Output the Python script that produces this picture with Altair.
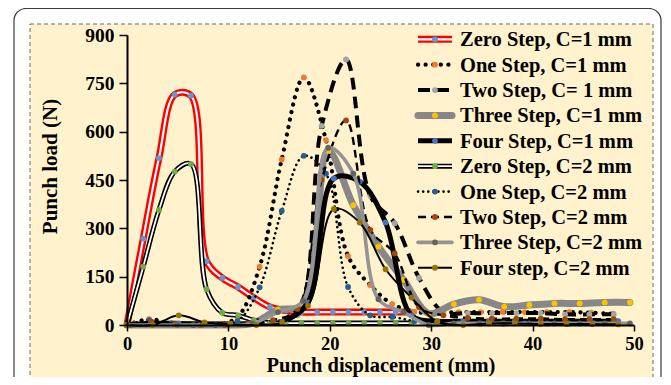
import altair as alt
import pandas as pd

# ---------------- data ----------------
x_zero = [0, 1.6, 3.15, 4.7, 6.3, 7.85, 9.4, 10.95, 12.5, 14.1, 15.65, 17.2, 18.75, 20.3, 21.85, 23.4, 24.95, 26.5, 28.05]
zero_c1 = [0, 268, 518, 715, 712, 198, 146, 118, 85, 56, 45, 40, 40, 40, 40, 40, 40, 40, 40]
zero_c2 = [0, 181, 357, 476, 500, 111, 38, 30, 15, 6, 6, 6, 6, 6, 6, 6, 6, 6, 6]

x_one = [0, 2.18, 4.36, 6.54, 8.72, 10.9, 13.08, 15.26, 17.44, 19.62, 21.8, 23.98, 26.16, 28.34, 30.52, 32.7, 34.88, 37.06, 39.24, 41.42, 43.6, 45.78, 47.96]
one_c1 = [0, 18, 5, 2, 0, 25, 181, 514, 768, 574, 214, 124, 65, 41, 38, 40, 40, 40, 40, 40, 40, 38, 35]
one_c2 = [0, 15, 5, 0, 0, 12, 117, 354, 525, 470, 118, 30, 25, 12, 5, 5, 5, 5, 5, 5, 5, 5, 5]

x_two = [0, 2.4, 4.8, 7.2, 9.6, 12.0, 14.4, 16.8, 19.2, 21.6, 24.0, 26.4, 28.8, 31.2, 33.6, 36.0, 38.4, 40.8, 43.2, 45.6, 48.0]
two_c1 = [0, 5, 3, 0, 0, 3, 10, 30, 618, 824, 400, 316, 146, 40, 37, 37, 37, 37, 33, 33, 33]
two_c2 = [0, 10, 3, 0, 0, 5, 15, 50, 450, 635, 295, 222, 55, 30, 22, 20, 20, 20, 18, 18, 18]

x_three = [0, 2.48, 4.96, 7.44, 9.92, 12.4, 14.88, 17.36, 19.84, 22.32, 24.8, 27.28, 29.76, 32.24, 34.72, 37.2, 39.68, 42.16, 44.64, 47.12, 49.6]
three_c1 = [0, 0, 0, 0, 0, 5, 47, 62, 540, 372, 243, 140, 36, 65, 78, 57, 62, 67, 67, 70, 70]
three_c2 = [0, 0, 0, 0, 0, 5, 40, 75, 550, 470, 80, 40, 0, 5, 5, 5, 5, 5, 5, 5, 5]

x_four = [0, 2.55, 5.1, 7.65, 10.2, 12.75, 15.3, 17.85, 20.4, 22.95, 25.5, 28.05, 30.6, 33.15, 35.7, 38.25, 40.8, 43.35, 45.9, 48.45]
four_c1 = [0, 5, 5, 3, 3, 5, 10, 70, 455, 445, 318, 30, 12, 12, 12, 12, 12, 12, 12, 12]
four_c2 = [0, 0, 30, 8, 3, 0, 8, 60, 360, 318, 173, 85, 10, 0, 5, 5, 3, 3, 3, 2]

names = ["Zero Step, C=1 mm", "One Step, C=1 mm", "Two Step, C= 1 mm", "Three Step, C=1 mm",
         "Four Step, C=1 mm", "Zero Step, C=2 mm", "One Step, C=2 mm", "Two Step, C=2 mm",
         "Three Step, C=2 mm", "Four step, C=2 mm"]
xs = [x_zero, x_one, x_two, x_three, x_four, x_zero, x_one, x_two, x_three, x_four]
ys = [zero_c1, one_c1, two_c1, three_c1, four_c1, zero_c2, one_c2, two_c2, three_c2, four_c2]

# ---------------- styles ----------------
styles = [
    dict(color="#FF0000", w=7, inner="white", iw=2.2, dash=None, cap="butt", marker="#5B9BD5"),
    dict(color="black", w=4.2, inner=None, iw=0, dash=[0.1, 7.5], cap="round", marker="#ED7D31"),
    dict(color="black", w=4, inner=None, iw=0, dash=[12, 7], cap="butt", marker="#A5A5A5"),
    dict(color="#878787", w=7, inner=None, iw=0, dash=None, cap="round", marker="#FFC000"),
    dict(color="black", w=5, inner=None, iw=0, dash=None, cap="butt", marker="#4472C4"),
    dict(color="black", w=5, inner="white", iw=1.8, dash=None, cap="butt", marker="#70AD47"),
    dict(color="black", w=2.6, inner=None, iw=0, dash=[0.1, 5], cap="round", marker="#255E91"),
    dict(color="black", w=2.4, inner=None, iw=0, dash=[8, 5], cap="butt", marker="#9E480E"),
    dict(color="#939393", w=3.6, inner=None, iw=0, dash=None, cap="round", marker="#636363"),
    dict(color="black", w=2, inner=None, iw=0, dash=None, cap="butt", marker="#997300"),
]

SERIF = "Liberation Serif"
W, H = 507, 290

x_enc = alt.X("x:Q", scale=alt.Scale(domain=[0, 50], nice=False),
              axis=alt.Axis(values=[0, 10, 20, 30, 40, 50], title="Punch displacement (mm)", grid=False,
                            labelFlush=False, labelOverlap=False, zindex=1, titleX=253.5, titleY=46,
                            titleBaseline="alphabetic", titleAlign="center"))
y_enc = alt.Y("y:Q", scale=alt.Scale(domain=[0, 900], nice=False),
              axis=alt.Axis(values=[0, 150, 300, 450, 600, 750, 900], title="Punch load (N)", grid=False,
                            labelOverlap=False, zindex=1, titleX=-77, titleY=131, titleBaseline="middle",
                            titleAlign="center"))

one_row = alt.Data(values=[{"k": 0}])
layers = []

# frame decoration
layers.append(alt.Chart(one_row).mark_rect(fill="white", stroke="#3c3c3c", strokeWidth=1.2, cornerRadius=12).encode(
    x=alt.value(-113), x2=alt.value(534), y=alt.value(-26.5), y2=alt.value(420)))
layers.append(alt.Chart(one_row).mark_rect(fill="#FFF2CC", stroke="#6a6a6a", strokeWidth=1, strokeDash=[4, 3]).encode(
    x=alt.value(-97), x2=alt.value(526), y=alt.value(-11), y2=alt.value(420)))

for i in range(10):
    st = styles[i]
    df = pd.DataFrame({"x": xs[i], "y": ys[i]})
    base = alt.Chart(df).encode(x=x_enc, y=y_enc)
    kw = dict(interpolate="catmull-rom", color=st["color"], strokeWidth=st["w"], strokeCap=st["cap"],
              strokeJoin="round")
    if st["dash"]:
        kw["strokeDash"] = st["dash"]
    layers.append(base.mark_line(**kw))
    if st["inner"]:
        layers.append(base.mark_line(interpolate="catmull-rom", color=st["inner"], strokeWidth=st["iw"]))
    layers.append(base.mark_circle(size=34, opacity=1, color=st["marker"]))

# legend (manual, inside the plot)
for i in range(10):
    st = styles[i]
    py = 4.3 + i * 25.38
    rkw = dict(color=st["color"], strokeWidth=st["w"], strokeCap=st["cap"])
    if st["dash"]:
        rkw["strokeDash"] = st["dash"]
    layers.append(alt.Chart(one_row).mark_rule(**rkw).encode(
        x=alt.value(291), x2=alt.value(325), y=alt.value(py)))
    if st["inner"]:
        layers.append(alt.Chart(one_row).mark_rule(color=st["inner"], strokeWidth=st["iw"]).encode(
            x=alt.value(291), x2=alt.value(325), y=alt.value(py)))
    layers.append(alt.Chart(one_row).mark_circle(size=34, opacity=1, color=st["marker"]).encode(
        x=alt.value(308), y=alt.value(py)))
    layers.append(alt.Chart(one_row).mark_text(text=names[i], align="left", baseline="middle", font=SERIF,
                                               fontWeight="bold", fontSize=20.5, color="black").encode(
        x=alt.value(333), y=alt.value(py + 1)))

chart = alt.layer(*layers).properties(
    width=W, height=H,
    autosize=alt.AutoSizeParams(type="none"),
    padding={"left": 119, "top": 27, "right": 29, "bottom": 52},
    background="white",
).configure_view(stroke=None).configure_axis(
    labelFont=SERIF, labelFontWeight="bold", labelFontSize=19.5, labelColor="black",
    titleFont=SERIF, titleFontWeight="bold", titleFontSize=21.5, titleColor="black",
    domainColor="black", domainWidth=2, tickColor="black", tickWidth=1.5,
).configure_axisX(tickSize=6, labelPadding=3, labelFontSize=18.5, titleFontSize=20.5).configure_axisY(
    tickSize=8, labelPadding=5, titleFontSize=21)

chart.save("out.html", embed_options={"renderer": "svg", "actions": False})
